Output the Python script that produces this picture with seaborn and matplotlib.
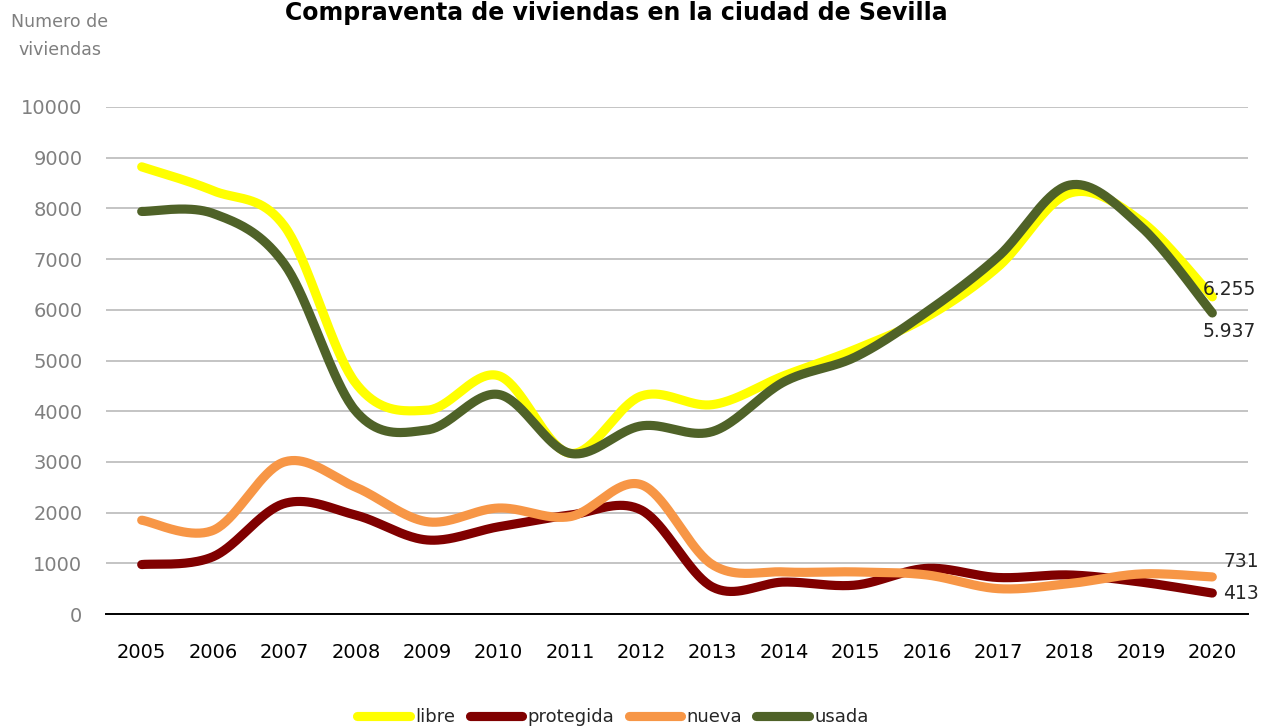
import numpy as np
import pandas as pd
import matplotlib
matplotlib.use("Agg")
import matplotlib.pyplot as plt
import seaborn as sns

# Compraventa de viviendas en Sevilla, 2005-2020
years = [2005, 2006, 2007, 2008, 2009, 2010, 2011, 2012,
         2013, 2014, 2015, 2016, 2017, 2018, 2019, 2020]
libre = [8820, 8350, 7650, 4550, 4020, 4700, 3170, 4300,
         4130, 4700, 5220, 5860, 6850, 8300, 7750, 6255]
protegida = [975, 1130, 2180, 1950, 1460, 1720, 1950, 2050,
             530, 630, 570, 900, 720, 770, 630, 413]
nueva = [1850, 1650, 3000, 2500, 1820, 2090, 1920, 2550,
         970, 830, 830, 770, 500, 600, 790, 731]
usada = [7940, 7900, 6900, 4000, 3630, 4330, 3170, 3710,
         3600, 4580, 5070, 5960, 7050, 8460, 7640, 5937]

series_names = ["libre", "protegida", "nueva", "usada"]
series_values = [libre, protegida, nueva, usada]
colors = ["#FFFF00", "#800000", "#F79646", "#4F6228"]
y_ticks = [0, 1000, 2000, 3000, 4000, 5000, 6000, 7000, 8000, 9000, 10000]


def smooth_curve(xs, ys, n=40):
    """Bezier smoothing through every point (spreadsheet-style smoothed line)."""
    pts = np.column_stack([xs, ys]).astype(float)
    out = []
    last = len(pts) - 2
    for i in range(len(pts) - 1):
        p0 = pts[i - 1] if i > 0 else pts[i]
        p1, p2 = pts[i], pts[i + 1]
        p3 = pts[i + 2] if i + 2 < len(pts) else pts[i + 1]
        c1 = p1 + (p2 - p0) / 6.0
        c2 = p2 - (p3 - p1) / 6.0
        t = np.linspace(0, 1, n, endpoint=(i == last))[:, None]
        seg = ((1 - t) ** 3) * p1 + 3 * ((1 - t) ** 2) * t * c1 \
            + 3 * (1 - t) * t ** 2 * c2 + t ** 3 * p2
        out.append(seg)
    return np.vstack(out)


idx = np.arange(len(years))
frames = []
for name, vals in zip(series_names, series_values):
    curve = smooth_curve(idx, vals)
    frames.append(pd.DataFrame({"x": curve[:, 0], "y": curve[:, 1], "serie": name}))
df = pd.concat(frames, ignore_index=True)

sns.set_style("white")
plt.rcParams["font.family"] = ["DejaVu Sans"]

fig = plt.figure(figsize=(12.61, 7.26), dpi=100)
ax = fig.add_axes([106 / 1261, 1 - 614 / 726, (1248 - 106) / 1261, (614 - 107) / 726])

sns.lineplot(data=df, x="x", y="y", hue="serie", hue_order=series_names,
             palette=dict(zip(series_names, colors)), sort=False, estimator=None,
             linewidth=6.6, solid_capstyle="round", solid_joinstyle="round",
             ax=ax, legend=True)

# axes styling
ax.set_xlim(-0.5, len(years) - 0.5)
ax.set_ylim(0, 10000)
ax.set_yticks(y_ticks)
ax.set_yticklabels([str(v) for v in y_ticks])
ax.yaxis.grid(True, color="#C4C4C4", linewidth=1.4)
ax.set_axisbelow(True)
ax.set_xticks(idx)
ax.set_xticklabels([str(y) for y in years])
ax.set_xticks(np.arange(-0.5, len(years), 1.0), minor=True)
ax.tick_params(axis="x", which="major", length=0, pad=21, labelsize=14, labelcolor="#000000")
ax.tick_params(axis="x", which="minor", length=8, width=1.3, color="#000000", direction="out")
ax.tick_params(axis="y", length=0, pad=17, labelsize=14, labelcolor="#808080")
for side in ["left", "right", "top"]:
    ax.spines[side].set_visible(False)
ax.spines["bottom"].set_color("#000000")
ax.spines["bottom"].set_linewidth(1.4)
ax.set_xlabel("")
ax.set_ylabel("")

# end-of-series value labels
last = len(years) - 1
lab_style = dict(fontsize=13.5, color="#262626", textcoords="offset points")
ax.annotate("6.255", (last, libre[-1]), xytext=(-7, 5), ha="left", va="center", **lab_style)
ax.annotate("5.937", (last, usada[-1]), xytext=(-7, -13), ha="left", va="center", **lab_style)
ax.annotate("731", (last, nueva[-1]), xytext=(8, 11), ha="left", va="center", **lab_style)
ax.annotate("413", (last, protegida[-1]), xytext=(8, 0), ha="left", va="center", **lab_style)

# legend below the plot
sns.move_legend(ax, "center", bbox_to_anchor=(0.444, -0.204), ncol=4, frameon=False,
                title=None, fontsize=13, handlelength=2.9, handletextpad=0.3,
                columnspacing=0.8)

# titles
fig.text(0.489, 1 - 1 / 726, "Compraventa de viviendas en la ciudad de Sevilla",
         ha="center", va="top", fontsize=17, fontweight="bold", color="#000000")
fig.text(60 / 1261, 1 - 36 / 726, "Numero de\nviviendas", ha="center", va="center",
         fontsize=12.5, color="#7F7F7F", linespacing=1.75)

fig.savefig("out.png", dpi=100)
